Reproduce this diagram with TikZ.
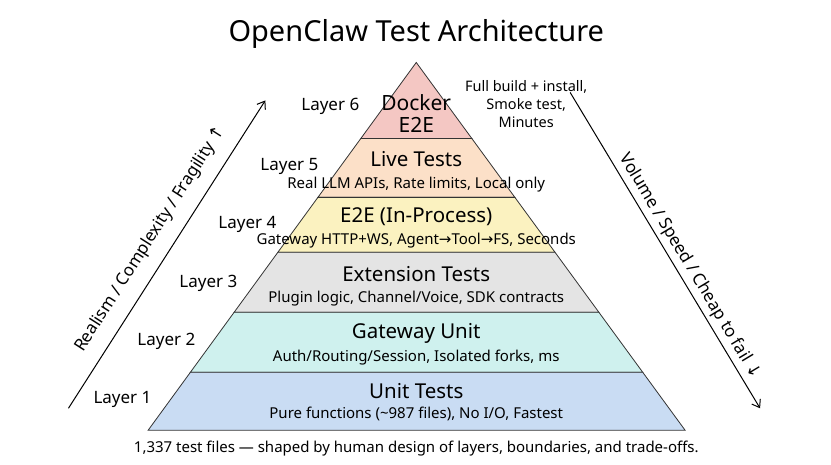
\documentclass[tikz,border=0pt]{standalone}
\usepackage{fontspec}
\setmainfont{Noto Sans}
\newfontfamily\symf{DejaVu Sans}
\begin{document}
\begin{tikzpicture}[x=1pt,y=-1pt,
  lay/.style={draw=black!80,line width=0.8pt},
  big/.style={font=\fontsize{20.5}{22}\selectfont,inner sep=0},
  sub/.style={font=\fontsize{15}{16}\selectfont,inner sep=0},
  lbl/.style={font=\fontsize{17}{18}\selectfont,inner sep=0},
  arr/.style={line width=1pt,-{Straight Barb[length=7pt,width=10pt]}}]
\usetikzlibrary{arrows.meta}
\fill[white] (0,0) rectangle (831,464);
\def\xl#1{416-0.729*(#1-62)}
\def\xr#1{416+0.731*(#1-62)}
\def\trap#1#2#3{\filldraw[lay,fill=#3] ({\xl{#1}},#1) -- ({\xr{#1}},#1) -- ({\xr{#2}},#2) -- ({\xl{#2}},#2) -- cycle;}
\filldraw[lay,fill={rgb,255:red,244;green,199;blue,195}] (416,62) -- ({\xr{138}},138) -- ({\xl{138}},138) -- cycle;
\trap{138}{197}{{rgb,255:red,252;green,224;blue,200}}
\trap{197}{252}{{rgb,255:red,251;green,242;blue,192}}
\trap{252}{312}{{rgb,255:red,228;green,228;blue,228}}
\trap{312}{372}{{rgb,255:red,207;green,241;blue,238}}
\trap{372}{430}{{rgb,255:red,201;green,220;blue,243}}
\node[font=\fontsize{29}{30}\selectfont] (title) at (416,33) {OpenClaw Test Architecture};
\node[big,align=center,font=\fontsize{21}{22}\selectfont] (d) at (416,113) {Docker\\E2E};
\node[big] (l5) at (416,159) {Live Tests};
\node[sub] (l5s) at (416,184) {Real LLM APIs, Rate limits, Local only};
\node[big] (l4) at (416,216) {E2E (In-Process)};
\node[sub] (l4s) at (416,240) {Gateway HTTP+WS, Agent{\symf→}Tool{\symf→}FS, Seconds};
\node[big] (l3) at (416,274) {Extension Tests};
\node[sub] (l3s) at (416,298) {Plugin logic, Channel/Voice, SDK contracts};
\node[big] (l2) at (416,333) {Gateway Unit};
\node[sub] (l2s) at (416,357) {Auth/Routing/Session, Isolated forks, ms};
\node[big] (l1) at (416,391) {Unit Tests};
\node[sub] (l1s) at (416,414) {Pure functions (\textasciitilde 987 files), No I/O, Fastest};
\node[sub,align=center,font=\fontsize{14.5}{18}\selectfont] (note) at (526,104) {Full build + install,\\Smoke test,\\Minutes};
\node[lbl] (a6) at (330,106) {Layer 6};
\node[lbl] (a5) at (289,166) {Layer 5};
\node[lbl] (a4) at (247,224) {Layer 4};
\node[lbl] (a3) at (208,283) {Layer 3};
\node[lbl] (a2) at (166,341) {Layer 2};
\node[lbl] (a1) at (122,399) {Layer 1};
\node[sub] (bot) at (416,448) {1,337 test files — shaped by human design of layers, boundaries, and trade-offs.};
\coordinate (p1) at (68,408); \coordinate (p2) at (265,100);
\coordinate (q1) at (570,92); \coordinate (q2) at (760,408);
\draw[arr] (p1) -- (p2);
\draw[arr] (q1) -- (q2);
\node[lbl] at (0,0) {};
\node[lbl,rotate=57.4] (lt) at (150,239) {Realism / Complexity / Fragility {\symf↑}};
\node[lbl,rotate=-59] (rt) at (690,266) {Volume / Speed / Cheap to fail {\symf↓}};
\end{tikzpicture}
\end{document}
